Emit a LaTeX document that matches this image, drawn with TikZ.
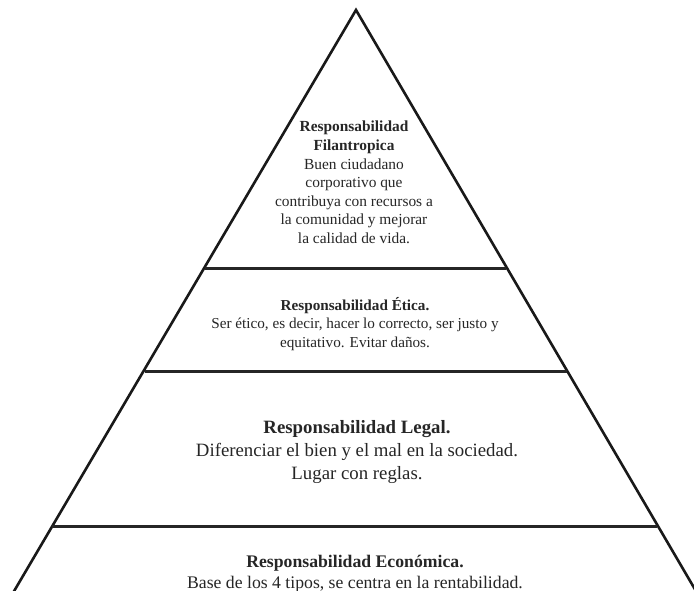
\documentclass[tikz,border=0pt]{standalone}
\usepackage{fontspec}
\setmainfont{Liberation Serif}
\begin{document}
\begin{tikzpicture}[x=1pt,y=-1pt,
  edge/.style={line width=2.6pt,black!90},
  tier/.style={line width=3pt,black!85},
  small/.style={align=center,font=\fontsize{15.4}{18.6}\selectfont,text=black!85,inner sep=0pt},
  ethic/.style={align=center,font=\fontsize{15.2}{18.5}\selectfont,text=black!85,inner sep=0pt},
  large/.style={align=center,font=\fontsize{18.8}{23}\selectfont,text=black!85,inner sep=0pt},
  base/.style={align=center,font=\fontsize{17.7}{21}\selectfont,text=black!85,inner sep=0pt}]
\useasboundingbox (0,0) rectangle (694,590);
\clip (0,0) rectangle (694,590);
\fill[white] (0,0) rectangle (694,590);
\coordinate (apex) at (356,10);
\coordinate (bl) at (0,615);
\coordinate (br) at (710,615);
\draw[edge,line join=miter] (bl) -- (apex) -- (br);
\coordinate (a1) at (205,268); \coordinate (b1) at (506,268);
\coordinate (a2) at (145,371); \coordinate (b2) at (567,371);
\coordinate (a3) at (52,526);  \coordinate (b3) at (657,526);
\draw[tier] (a1) -- (b1);
\draw[tier] (a2) -- (b2);
\draw[tier] (a3) -- (b3);
\node[small,anchor=north] (fil) at (354,121) {\textbf{Responsabilidad}\\\textbf{Filantropica}\\Buen ciudadano\\corporativo que\\contribuya con recursos a\\la comunidad y mejorar\\la calidad de vida.};
\node[ethic,anchor=north] (eti) at (355,297) {\textbf{Responsabilidad Ética.}\\Ser ético, es decir, hacer lo correcto, ser justo y\\equitativo. Evitar daños.};
\node[large,anchor=north] (leg) at (357,420) {\textbf{Responsabilidad Legal.}\\Diferenciar el bien y el mal en la sociedad.\\Lugar con reglas.};
\node[base,anchor=north] (eco) at (355,555) {\textbf{Responsabilidad Económica.}\\Base de los 4 tipos, se centra en la rentabilidad.};
\end{tikzpicture}
\end{document}
